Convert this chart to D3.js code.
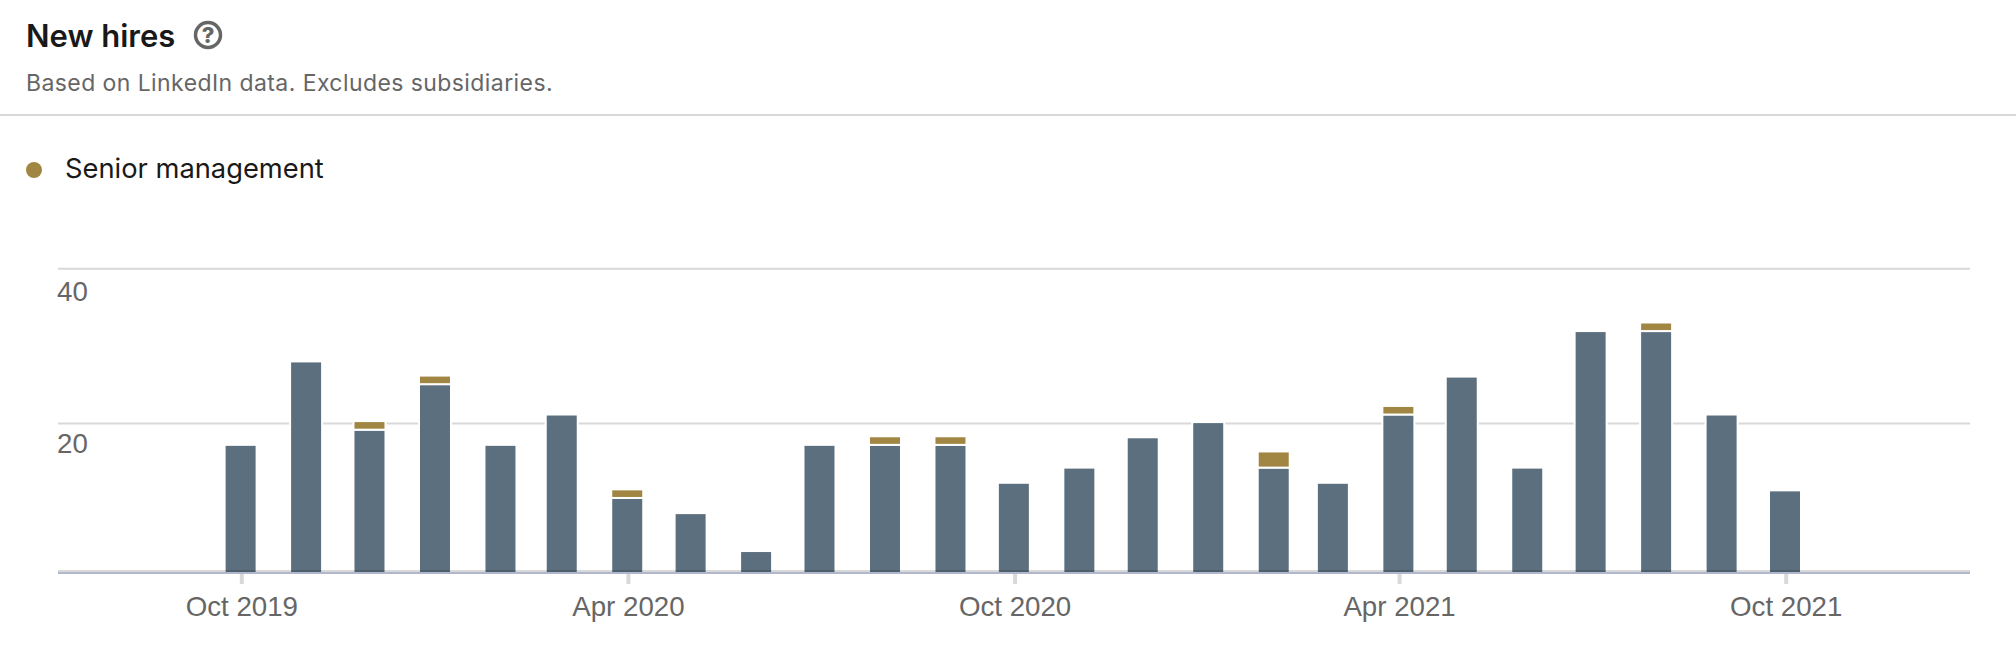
<!DOCTYPE html>
<html>
<head>
<meta charset="utf-8">
<script src="https://d3js.org/d3.v7.min.js"></script>
<style>
  html, body { margin: 0; padding: 0; background: #fff; }
  svg { display: block; }
  .tick text { font-family: "Liberation Sans", sans-serif; font-size: 27.7px; fill: #666; }
</style>
</head>
<body>
<div id="vis"></div>
<script>
var width = 2016,
    height = 662;

var months = ["2019-10","2019-11","2019-12","2020-01","2020-02","2020-03","2020-04","2020-05","2020-06",
              "2020-07","2020-08","2020-09","2020-10","2020-11","2020-12","2021-01","2021-02","2021-03",
              "2021-04","2021-05","2021-06","2021-07","2021-08","2021-09","2021-10"];
var otherHires = [17,28,19,25,17,21,10,8,3,17,17,17,12,14,18,20,14,12,21,26,14,32,32,21,11];
var seniorHires = [0,0,1,1,0,0,1,0,0,0,1,1,0,0,0,0,2,0,1,0,0,0,1,0,0];

var xTicks = ["2019-10","2020-04","2020-10","2021-04","2021-10"];
var xDomain = ["2019-07-06","2021-12-27"];
var gridValues = [20, 40.4]; // top line sits a little above 40 in the original
var gridLabels = ["20", "40"];

var parseMonth = d3.utcParse("%Y-%m"),
    parseDay = d3.utcParse("%Y-%m-%d");

var rows = months.map(function(m, i) {
  return { date: parseMonth(m), other: otherHires[i], senior: seniorHires[i] };
});

var svg = d3.select("#vis").append("svg")
    .attr("width", width)
    .attr("height", height);

// header
svg.append("text")
    .attr("x", 26).attr("y", 47)
    .style("font-family", "Inter, sans-serif")
    .style("font-size", "31px")
    .style("font-weight", 600)
    .style("fill", "#191919")
    .text("New hires");

svg.append("circle")
    .attr("cx", 208).attr("cy", 35).attr("r", 12.5)
    .attr("fill", "none")
    .attr("stroke", "#666")
    .attr("stroke-width", 3.5);

svg.append("text")
    .attr("x", 208).attr("y", 43)
    .attr("text-anchor", "middle")
    .style("font-family", "Inter, sans-serif")
    .style("font-size", "22px")
    .style("font-weight", 800)
    .style("fill", "#666")
    .text("?");

svg.append("text")
    .attr("x", 26).attr("y", 91)
    .style("font-family", "Inter, sans-serif")
    .style("font-size", "23px")
    .style("letter-spacing", "0.42px")
    .style("fill", "#666")
    .text("Based on LinkedIn data. Excludes subsidiaries.");

svg.append("rect")
    .attr("x", 0).attr("y", 114)
    .attr("width", width).attr("height", 2)
    .attr("fill", "#d9d9d9");

// legend
svg.append("circle")
    .attr("cx", 34).attr("cy", 170).attr("r", 8)
    .attr("fill", "#a08642");

svg.append("text")
    .attr("x", 65).attr("y", 178)
    .style("font-family", "Inter, sans-serif")
    .style("font-size", "27.3px")
    .style("fill", "#191919")
    .text("Senior management");

// scales
var x = d3.scaleUtc()
    .domain(xDomain.map(parseDay))
    .range([58, 1970]);

// fitted to the bar tops, zero ends up just under the drawn baseline
var y = d3.scaleLinear()
    .domain([0, 40])
    .range([574.8, 271.4]);

var baseY = 573;

// gridlines + y labels
var yAxis = d3.axisRight(y)
    .tickValues(gridValues)
    .tickSize(1912)
    .tickFormat(function(d, i) { return gridLabels[i]; });

var yG = svg.append("g")
    .attr("transform", "translate(58,0)")
    .call(yAxis);

yG.select(".domain").remove();
yG.selectAll(".tick line")
    .attr("stroke", "#d9d9d9")
    .attr("stroke-width", 2);
yG.selectAll(".tick text")
    .attr("x", -1)
    .attr("dy", function(d, i) { return i == 1 ? 32 : 29.5; })
    .attr("text-anchor", "start");

// x axis
var xAxis = d3.axisBottom(x)
    .tickValues(xTicks.map(parseMonth))
    .tickSize(10)
    .tickPadding(12)
    .tickFormat(d3.utcFormat("%b %Y"));

var xG = svg.append("g")
    .attr("transform", "translate(-0.5,574)")
    .call(xAxis);

xG.select(".domain").remove();
xG.selectAll(".tick line")
    .attr("stroke", "#d9d9d9")
    .attr("stroke-width", 4);

// bars, white outline cuts the gridlines and separates the stack
var barW = 32;
var barShift = -1.2; // bars sit a touch left of their tick

svg.selectAll("rect.other")
    .data(rows)
    .enter()
    .append("rect")
    .attr("class", "other")
    .attr("x", function(d) { return x(d.date) - barW / 2 + barShift; })
    .attr("y", function(d) { return y(d.other) - 1; })
    .attr("width", barW)
    .attr("height", function(d) { return baseY - y(d.other) + 1; })
    .attr("fill", "#5c6f7e")
    .attr("stroke", "#fff")
    .attr("stroke-width", 2);

svg.selectAll("rect.senior")
    .data(rows.filter(function(d) { return d.senior > 0; }))
    .enter()
    .append("rect")
    .attr("class", "senior")
    .attr("x", function(d) { return x(d.date) - barW / 2 + barShift; })
    .attr("y", function(d) { return y(d.other + d.senior) - 2; })
    .attr("width", barW)
    .attr("height", function(d) { return y(d.other) - y(d.other + d.senior) + 1; })
    .attr("fill", "#a08642")
    .attr("stroke", "#fff")
    .attr("stroke-width", 2);

// baseline goes over the bars
svg.append("rect")
    .attr("x", 58).attr("y", 570)
    .attr("width", 1912).attr("height", 2)
    .attr("fill", "rgba(0,0,0,0.15)");

svg.append("rect")
    .attr("x", 58).attr("y", 572)
    .attr("width", 1912).attr("height", 2)
    .attr("fill", "#b0b7cc");
</script>
</body>
</html>
